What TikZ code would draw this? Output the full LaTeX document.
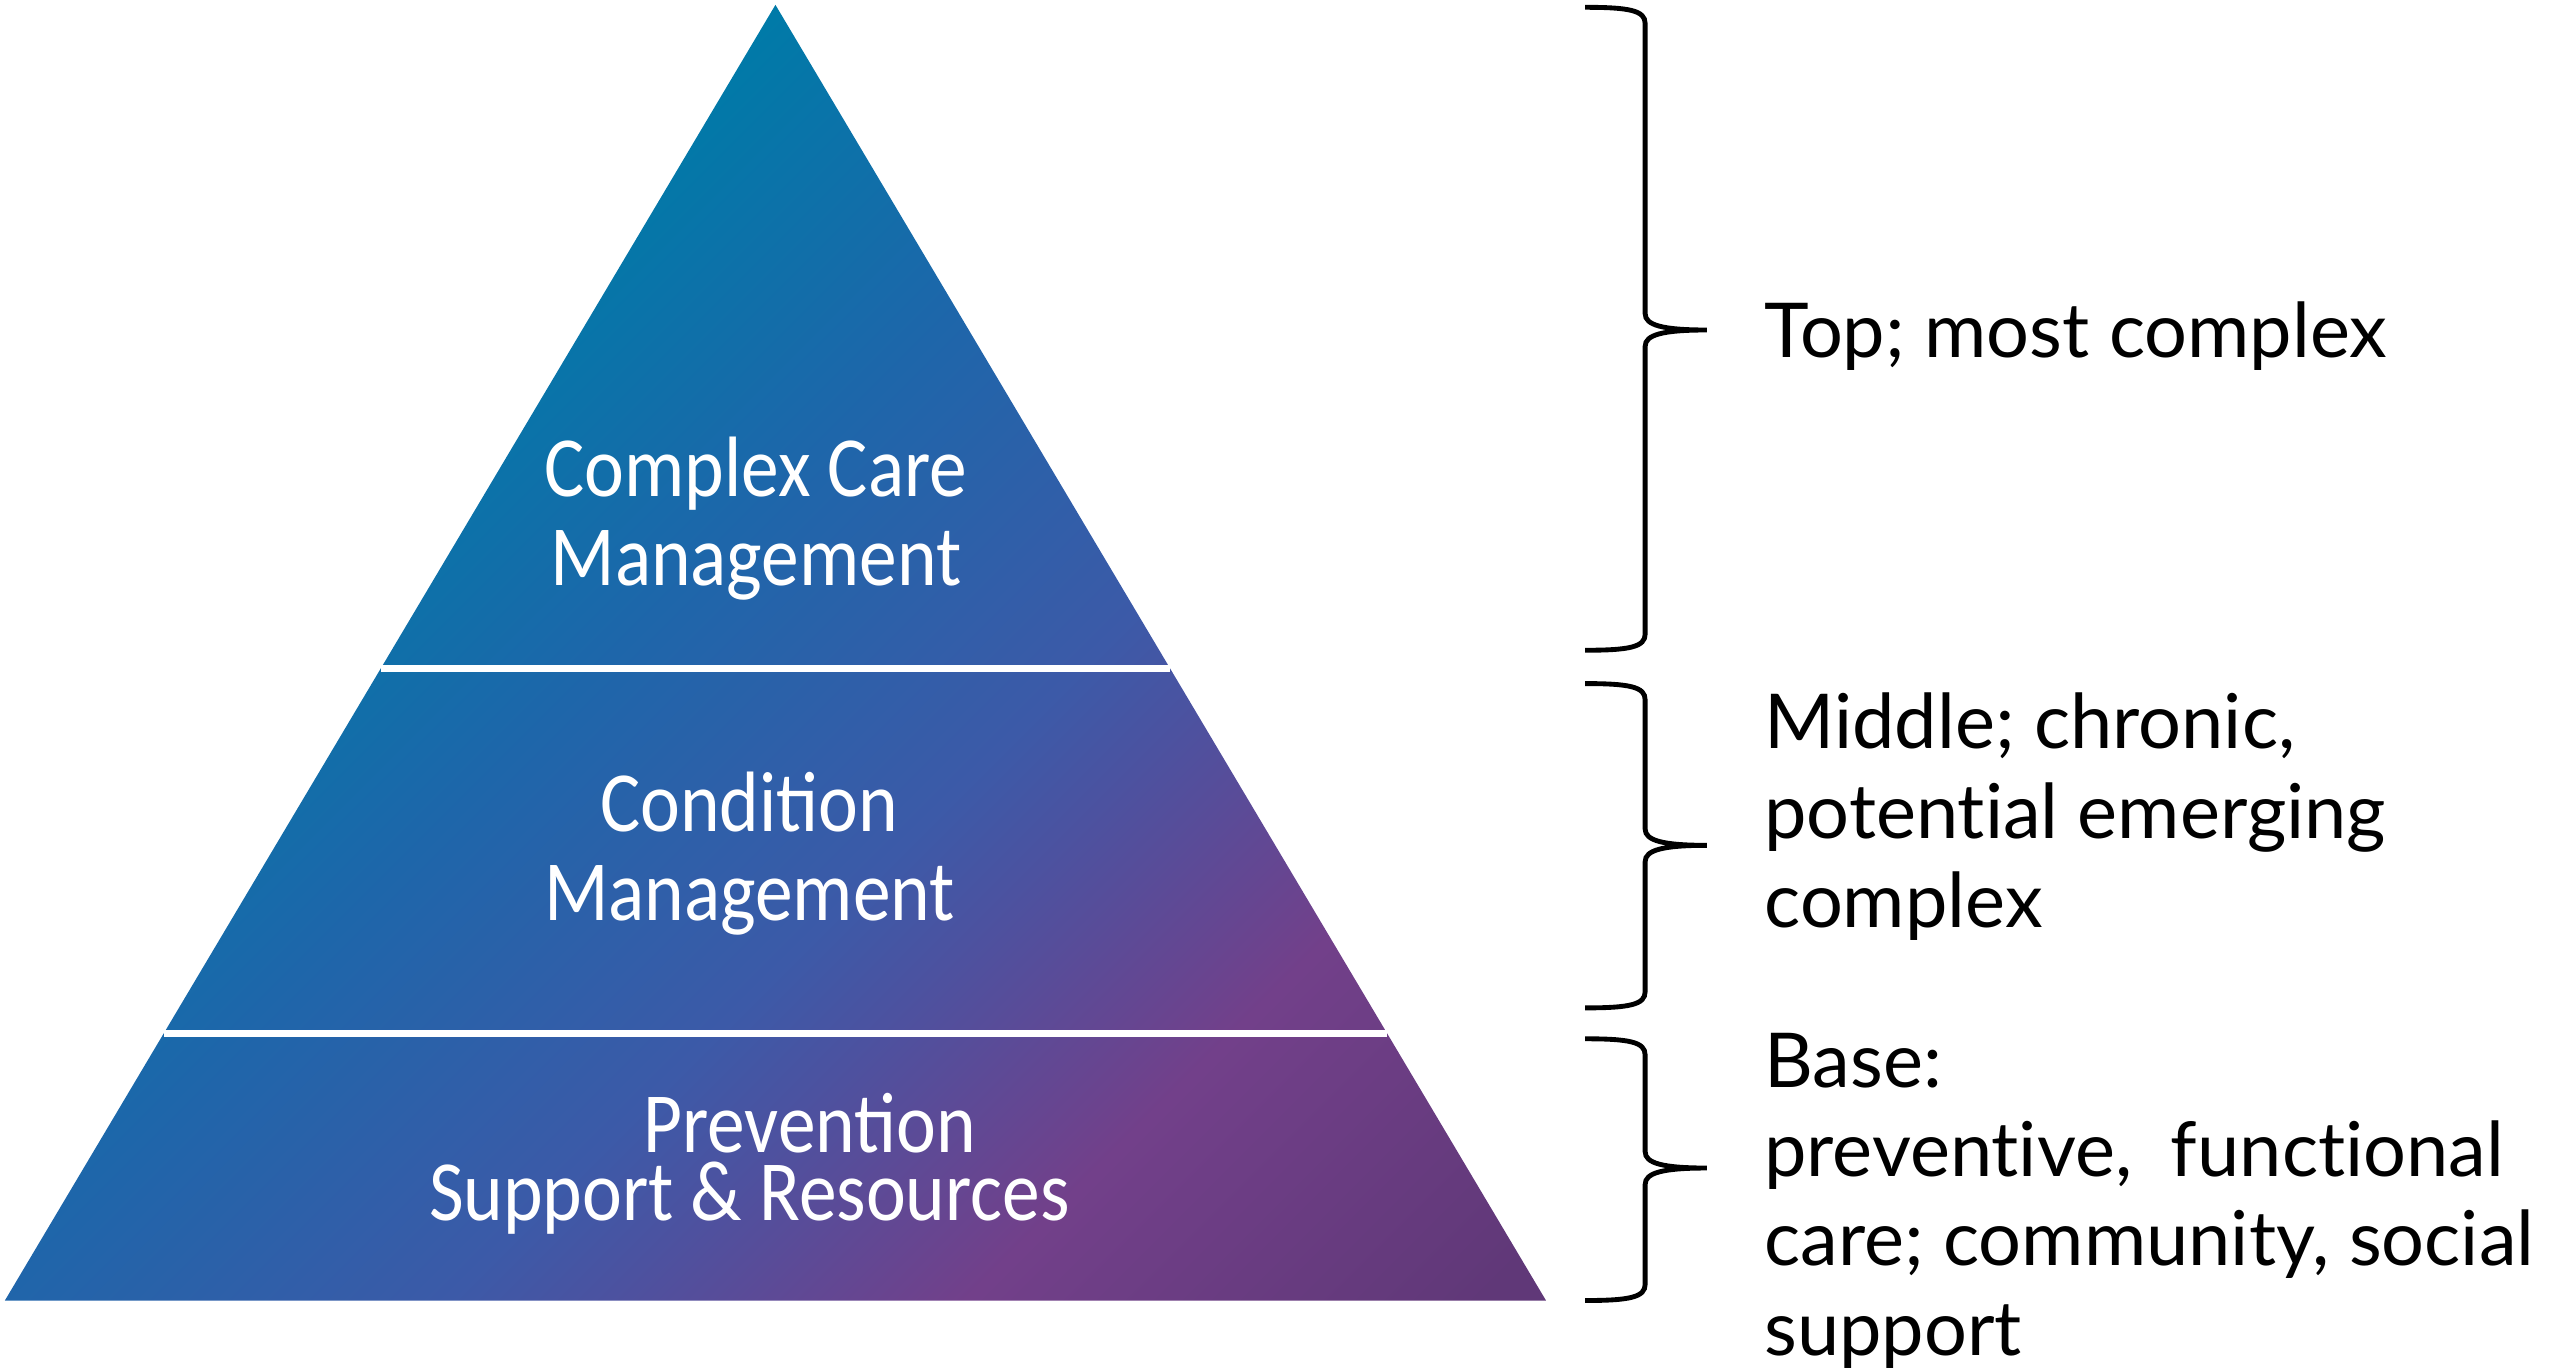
\documentclass[tikz,border=0pt]{standalone}
\usepackage{fontspec}
\usetikzlibrary{calc}
\newfontfamily\tierfont[FakeStretch=0.88]{Carlito}
\newfontfamily\notefont[Ligatures=NoCommon]{Lato}
\definecolor{tierA}{RGB}{0,122,168}
\definecolor{tierB}{RGB}{30,102,170}
\definecolor{tierC}{RGB}{60,90,168}
\definecolor{tierD}{RGB}{76,82,160}
\definecolor{tierE}{RGB}{114,64,138}
\definecolor{tierF}{RGB}{96,56,120}
\pgfdeclarehorizontalshading{tiershade}{100bp}{color(0bp)=(tierA); color(34bp)=(tierA); color(46bp)=(tierB); color(58bp)=(tierC); color(62bp)=(tierD); color(71bp)=(tierE); color(84bp)=(tierF); color(100bp)=(tierF)}
\tikzset{
  divider/.style={white, line width=2.3pt},
  bracestyle/.style={black, line width=1.7pt},
  tiertext/.style={text=white, align=center, inner sep=0pt, font=\tierfont\fontsize{30}{31.3}\selectfont},
  notetext/.style={anchor=north west, align=left, inner sep=0pt, font=\notefont\fontsize{26.5}{31.3}\selectfont}
}
% brace: top, tip, bottom
\newcommand{\tierbrace}[3]{%
  \draw[bracestyle] (19.5,#1) .. controls (20.05,#1) and (20.24,#1-0.04) .. (20.24,#1-0.2)
    -- (20.24,#2+0.2) .. controls (20.24,#2+0.06) and (20.45,#2) .. (21.0,#2)
    .. controls (20.45,#2) and (20.24,#2-0.06) .. (20.24,#2-0.2)
    -- (20.24,#3+0.2) .. controls (20.24,#3+0.04) and (20.05,#3) .. (19.5,#3);}

\begin{document}
\begin{tikzpicture}

\useasboundingbox (0,0) rectangle (31.36,16.82);

% pyramid
\coordinate (apex) at (9.54,16.76);
\coordinate (bl) at (0.06,0.82);
\coordinate (br) at (19.02,0.82);
\shade[shading=tiershade, shading angle=-45] (apex) -- (bl) -- (br) -- cycle;
\draw[divider] ($(apex)!0.512!(bl)$) -- ($(apex)!0.512!(br)$);
\draw[divider] ($(apex)!0.794!(bl)$) -- ($(apex)!0.794!(br)$);

\node[tiertext] (toptier) at (9.3,10.44) {Complex Care\\Management};
\node[tiertext] (midtier) at (9.22,6.32) {Condition\\Management};
\node[tiertext, font=\tierfont\fontsize{30}{23.9}\selectfont] (basetier) at (9.22,2.5) {\hspace*{1.48cm}Prevention\\Support \& Resources};

% braces and notes
\tierbrace{16.73}{12.76}{8.82}
\tierbrace{8.41}{6.42}{4.42}
\tierbrace{4.04}{2.45}{0.82}

\node[notetext] (toptext) at (21.7,13.12) {Top; most complex};
\node[notetext] (midtext) at (21.7,8.3) {Middle; chronic,\\potential emerging\\complex};
\node[notetext] (basetext) at (21.7,4.12) {Base:\\preventive,~ functional\\care; community, social\\support};

\end{tikzpicture}
\end{document}
